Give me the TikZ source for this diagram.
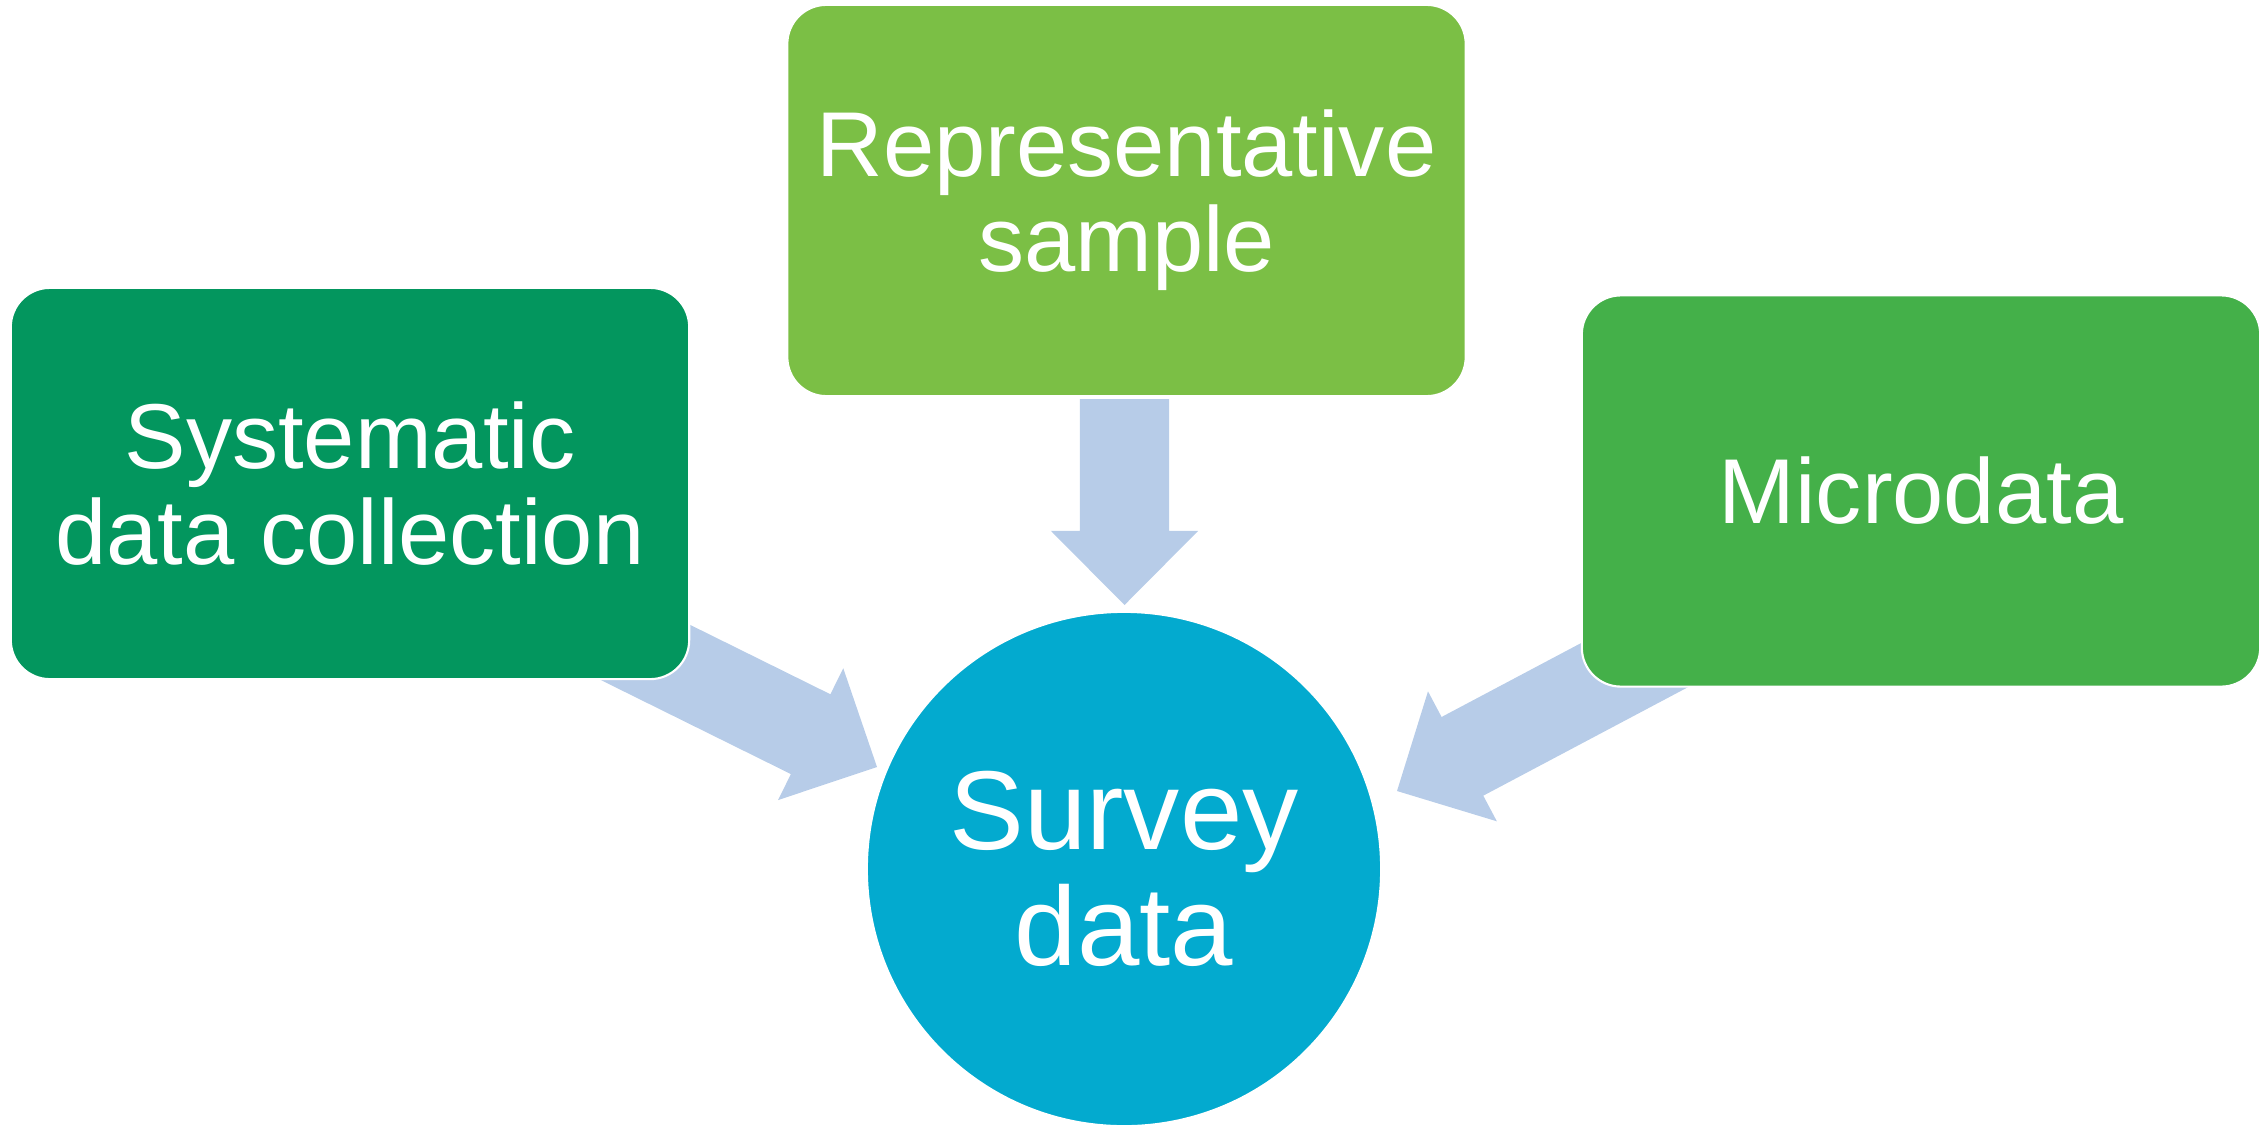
\documentclass[tikz,border=0pt]{standalone}
\usepackage{fontspec}
\setmainfont{Liberation Sans}
\usetikzlibrary{calc,backgrounds}
\definecolor{arrowblue}{HTML}{B7CCE8}
\definecolor{darkgreen}{HTML}{03965E}
\definecolor{lightgreen}{HTML}{7BBF45}
\definecolor{midgreen}{HTML}{44B049}
\definecolor{cyanfill}{HTML}{03AACF}
\newcommand\blockarrow[2]{%
  \path ($(#2)!0.74cm!(#1)$) coordinate (hb);
  \fill[arrowfill] ($(#1)!0.445cm!90:(#2)$) -- ($(hb)!0.445cm!90:(#2)$) -- ($(hb)!0.735cm!90:(#2)$) -- (#2) -- ($(hb)!0.735cm!-90:(#2)$) -- ($(hb)!0.445cm!-90:(#2)$) -- ($(#1)!0.445cm!-90:(#2)$) -- cycle;
}
\begin{document}
\begin{tikzpicture}[x=0.01cm,y=-0.01cm,
  box/.style={rectangle, rounded corners=0.39cm, draw=white, line width=0.6pt,
    minimum width=6.78cm, minimum height=3.91cm, inner sep=0pt, text=white,
    align=center, font=\fontsize{26.2}{27.1}\selectfont},
  hub/.style={circle, draw=white, line width=0.6pt, minimum size=5.14cm, inner sep=0pt,
    fill=cyanfill, text=white, align=center, font=\fontsize{31.9}{33}\selectfont},
  arrowfill/.style={fill=arrowblue}]
\useasboundingbox (0,0) rectangle (2267,1127);

\node[box, fill=darkgreen] (sys) at (350,483.5) {Systematic\\data collection};
\node[box, fill=lightgreen] (rep) at (1126.5,200.5) {Representative\\sample};
\node[box, fill=midgreen] (micro) at (1921,491) {Microdata};
\node[hub] (survey) at (1124,869) {Survey\\data};

\coordinate (dtail) at (1124.5,399);
\coordinate (dtip) at (1124.5,605);
\coordinate (ltail) at (590,625);
\coordinate (ltip) at (877,767);
\coordinate (rtail) at (1680,641);
\coordinate (rtip) at (1397,791);

\begin{pgfonlayer}{background}
  \blockarrow{dtail}{dtip}
  \blockarrow{ltail}{ltip}
  \blockarrow{rtail}{rtip}
\end{pgfonlayer}
\end{tikzpicture}
\end{document}
